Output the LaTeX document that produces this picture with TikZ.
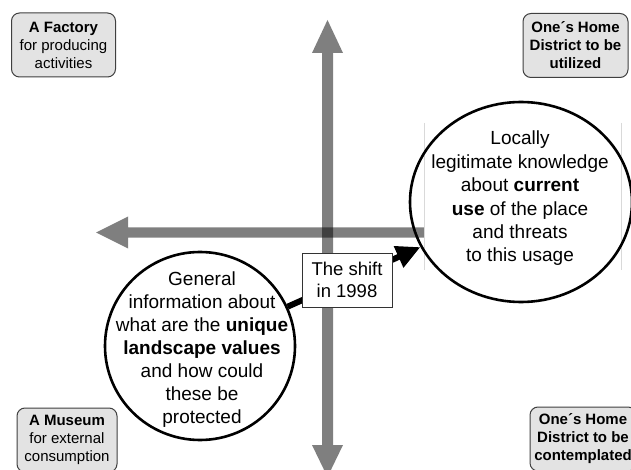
\documentclass[tikz,border=0pt]{standalone}
\usepackage{fontspec}
\setmainfont{Liberation Sans}
\usetikzlibrary{shapes.geometric,arrows.meta}

\begin{document}
\begin{tikzpicture}[x=1pt,y=-1pt,
  axis/.style={fill=black, fill opacity=0.5, draw=none},
  corner/.style={draw=black!75, line width=1pt, fill=black!11, rounded corners=8pt,
    minimum width=104pt, minimum height=64pt, inner sep=0pt, align=center,
    font=\fontsize{15}{18}\selectfont},
  bubble/.style={ellipse, draw=black, line width=2.6pt, inner sep=0pt},
  bubbletext/.style={align=center, inner sep=0pt, font=\fontsize{19}{23}\selectfont},
  shiftbox/.style={draw=black!80, line width=0.8pt, fill=white, minimum width=90pt,
    minimum height=54pt, align=center, inner sep=0pt,
    font=\fontsize{18.5}{22}\selectfont},
  shiftarrow/.style={line width=6pt, -{Triangle[length=24pt,width=22pt]}},
  framerule/.style={draw=black!15, line width=1pt}
]
\useasboundingbox (0,0) rectangle (631,470);
\fill[white] (0,0) rectangle (631,470);

% vertical axis, double-headed
\fill[axis] (322,53) -- (312,53) -- (327.5,20) -- (343,53) -- (333,53)
  -- (333,445) -- (343,445) -- (327.5,477) -- (312,445) -- (322,445) -- cycle;
% horizontal axis, pointing left
\fill[axis] (600,227.5) -- (128,227.5) -- (128,216.5) -- (96,232.5)
  -- (128,248.5) -- (128,237.5) -- (600,237.5) -- cycle;

% corner labels
\node[corner] (factory) at (63.5,45) {\textbf{A Factory}\\for producing\\activities};
\node[corner, minimum width=105pt, font=\fontsize{15}{18}\selectfont\bfseries]
  (utilized) at (575.5,45.5) {One´s Home\\District to be\\utilized};
\node[corner, minimum width=100pt] (museum) at (67,440) {\textbf{A Museum}\\for external\\consumption};
\node[corner, minimum width=106pt, font=\fontsize{15}{18}\selectfont\bfseries]
  (contemplated) at (583,439) {One´s Home\\District to be\\contemplated};

% white text frame inside the right bubble
\node[fill=white, minimum width=196pt, minimum height=147pt, inner sep=0pt] (rcframe) at (523,196.5) {};
\draw[framerule] (rcframe.north west) -- (rcframe.south west);
\draw[framerule] (rcframe.north east) -- (rcframe.south east);

% bubbles and their texts
\node[bubble, minimum width=222pt, minimum height=200pt] (rc) at (521,202) {};
\node[bubble, minimum width=190pt, minimum height=188pt] (lc) at (200,346) {};
\node[bubbletext, font=\fontsize{19}{23.4}\selectfont] (rctext) at (520,198.5)
  {Locally\\legitimate knowledge\\about \textbf{current}\\\textbf{use} of the place\\and threats\\to this usage};
\node[bubbletext] (lctext) at (202,350)
  {General\\information about\\what are the \textbf{unique}\\\textbf{landscape values}\\and how could\\these be\\protected};

% the shift
\draw[shiftarrow] (lc) -- (rc);
\node[shiftbox] (shift) at (347,280) {The shift\\in 1998};
\end{tikzpicture}
\end{document}
